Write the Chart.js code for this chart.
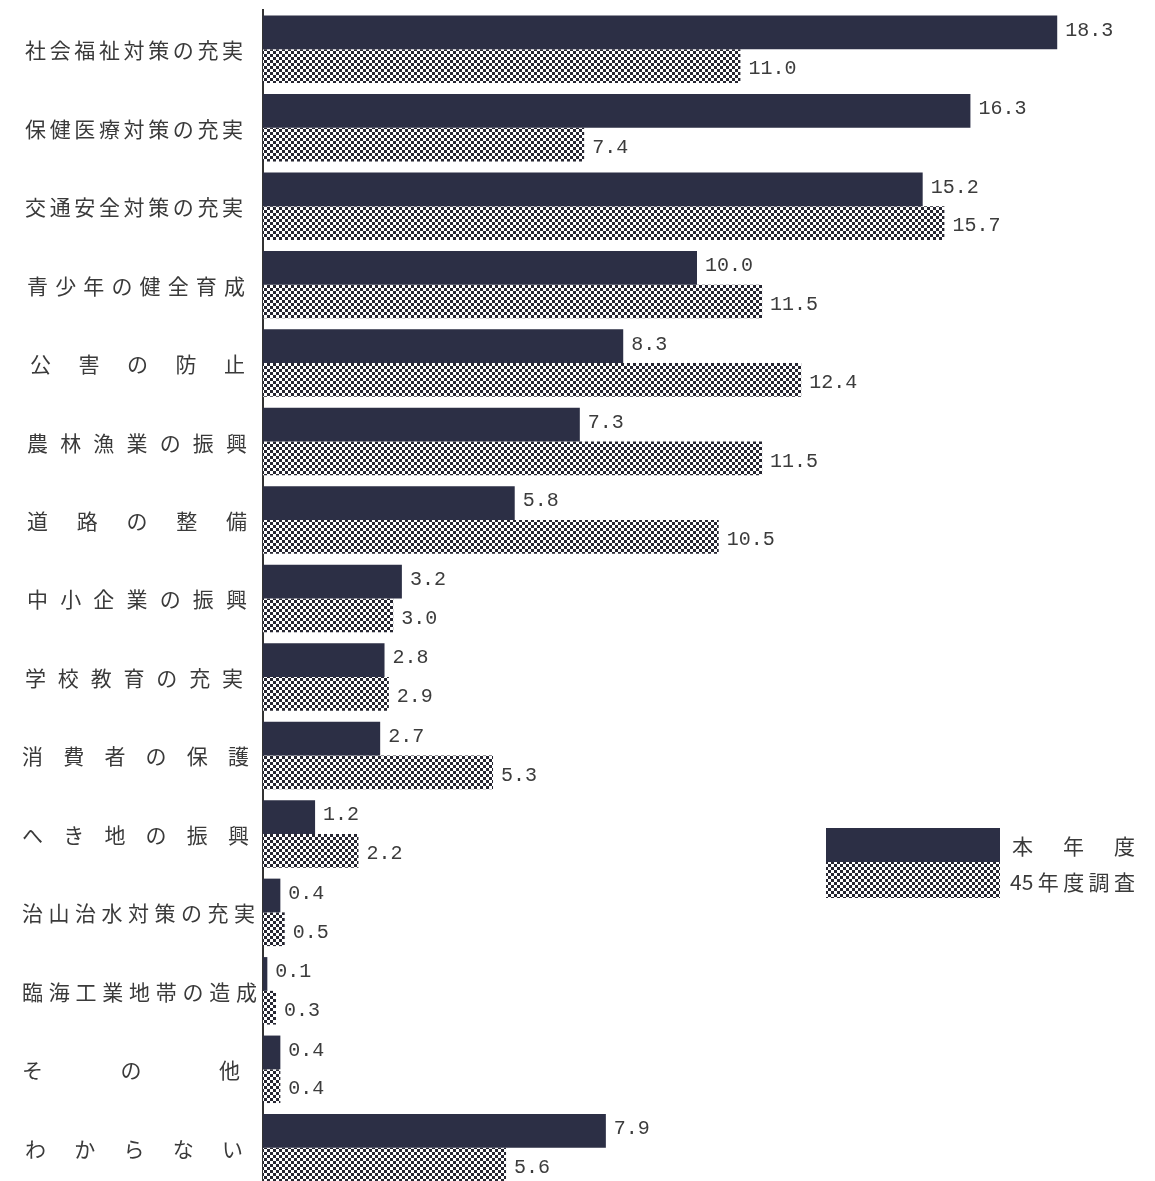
<!DOCTYPE html>
<html>
<head>
<meta charset="utf-8">
<script src="https://cdn.jsdelivr.net/npm/chart.js@4/dist/chart.umd.min.js"></script>
<style>
html,body{margin:0;padding:0;background:#fff;overflow:hidden;}
#wrap{width:1155px;height:1181px;position:relative;overflow:hidden;}
</style>
</head>
<body>
<div id="wrap"><canvas id="c" width="1155" height="1187"></canvas></div>
<script>
const categories = ["社会福祉対策の充実","保健医療対策の充実","交通安全対策の充実","青少年の健全育成","公害の防止","農林漁業の振興","道路の整備","中小企業の振興","学校教育の充実","消費者の保護","へき地の振興","治山治水対策の充実","臨海工業地帯の造成","その他","わからない"];
const currentYear = [18.3,16.3,15.2,10.0,8.3,7.3,5.8,3.2,2.8,2.7,1.2,0.4,0.1,0.4,7.9];
const survey45 = [11.0,7.4,15.7,11.5,12.4,11.5,10.5,3.0,2.9,5.3,2.2,0.5,0.3,0.4,5.6];
const seriesNames = ["本年度","45年度調査"];

// horizontal extents of each category label (layout only)
const labelSpans = [[25,243],[25,243],[25,243],[27,245],[30,245],[27,247],[27,247],[27,247],[25,243],[22,249],[22,249],[22,255],[22,257],[22,240],[25,243]];

const DARK = '#2c2f45';
function makePattern(){
  const p = document.createElement('canvas');
  p.width = 6; p.height = 6;
  const g = p.getContext('2d');
  g.fillStyle = '#ffffff'; g.fillRect(0,0,6,6);
  g.fillStyle = '#262631';
  g.fillRect(0,0,3,3); g.fillRect(3,3,3,3);
  return g.createPattern(p,'repeat');
}
const ctx0 = document.getElementById('c').getContext('2d');
const PAT = makePattern();

const LABEL_FONT = '21px "Noto Sans CJK JP"';
const LABEL_COLOR = '#3a3a3a';

function drawJustified(ctx, text, x0, x1, y){
  const toks = text.match(/[0-9]+|./gu);
  ctx.font = LABEL_FONT;
  ctx.fillStyle = LABEL_COLOR;
  ctx.textBaseline = 'middle';
  ctx.textAlign = 'left';
  const widths = toks.map(c => ctx.measureText(c).width);
  const total = widths.reduce((a,b)=>a+b,0);
  const gap = toks.length > 1 ? (x1 - x0 - total)/(toks.length-1) : 0;
  let x = x0;
  toks.forEach((c,i)=>{ ctx.fillText(c, x, y); x += widths[i] + gap; });
}

const decor = {
  id:'decor',
  afterDatasetsDraw(chart){
    const ctx = chart.ctx;
    ctx.save();
    ctx.font = '20px "Liberation Mono"';
    ctx.fillStyle = '#3c3c3c';
    ctx.textBaseline = 'middle';
    ctx.textAlign = 'left';
    chart.data.datasets.forEach((ds, di)=>{
      const meta = chart.getDatasetMeta(di);
      meta.data.forEach((bar, i)=>{
        ctx.fillText(ds.data[i].toFixed(1), bar.x + 8, bar.y + (di===0 ? -2 : 3));
      });
    });
    const ys = chart.scales.y;
    categories.forEach((c,i)=>{
      drawJustified(ctx, c, labelSpans[i][0], labelSpans[i][1], ys.getPixelForTick(i) + 1);
    });
    const lx = 826, lw = 174;
    ctx.fillStyle = DARK; ctx.fillRect(lx, 828, lw, 34);
    ctx.fillStyle = PAT; ctx.fillRect(lx, 862, lw, 36);
    drawJustified(ctx, seriesNames[0], 1012, 1135, 846);
    drawJustified(ctx, seriesNames[1], 1010, 1135, 882);
    ctx.restore();
  }
};

new Chart(ctx0, {
  type:'bar',
  data:{
    labels: categories,
    datasets:[
      {label:seriesNames[0], data:currentYear, backgroundColor:DARK, borderWidth:0, categoryPercentage:0.86, barPercentage:1.0},
      {label:seriesNames[1], data:survey45, backgroundColor:PAT, borderWidth:0, categoryPercentage:0.86, barPercentage:1.0}
    ]
  },
  options:{
    indexAxis:'y',
    responsive:false,
    animation:false,
    layout:{padding:{top:10,right:24,bottom:0,left:0}},
    plugins:{legend:{display:false},tooltip:{enabled:false}},
    scales:{
      x:{display:false,min:0,max:20},
      y:{
        grid:{display:false,drawTicks:false},
        border:{display:true,color:'#333',width:2},
        ticks:{display:false},
        afterFit(s){ s.width = 263; }
      }
    }
  },
  plugins:[decor]
});
</script>
</body>
</html>
